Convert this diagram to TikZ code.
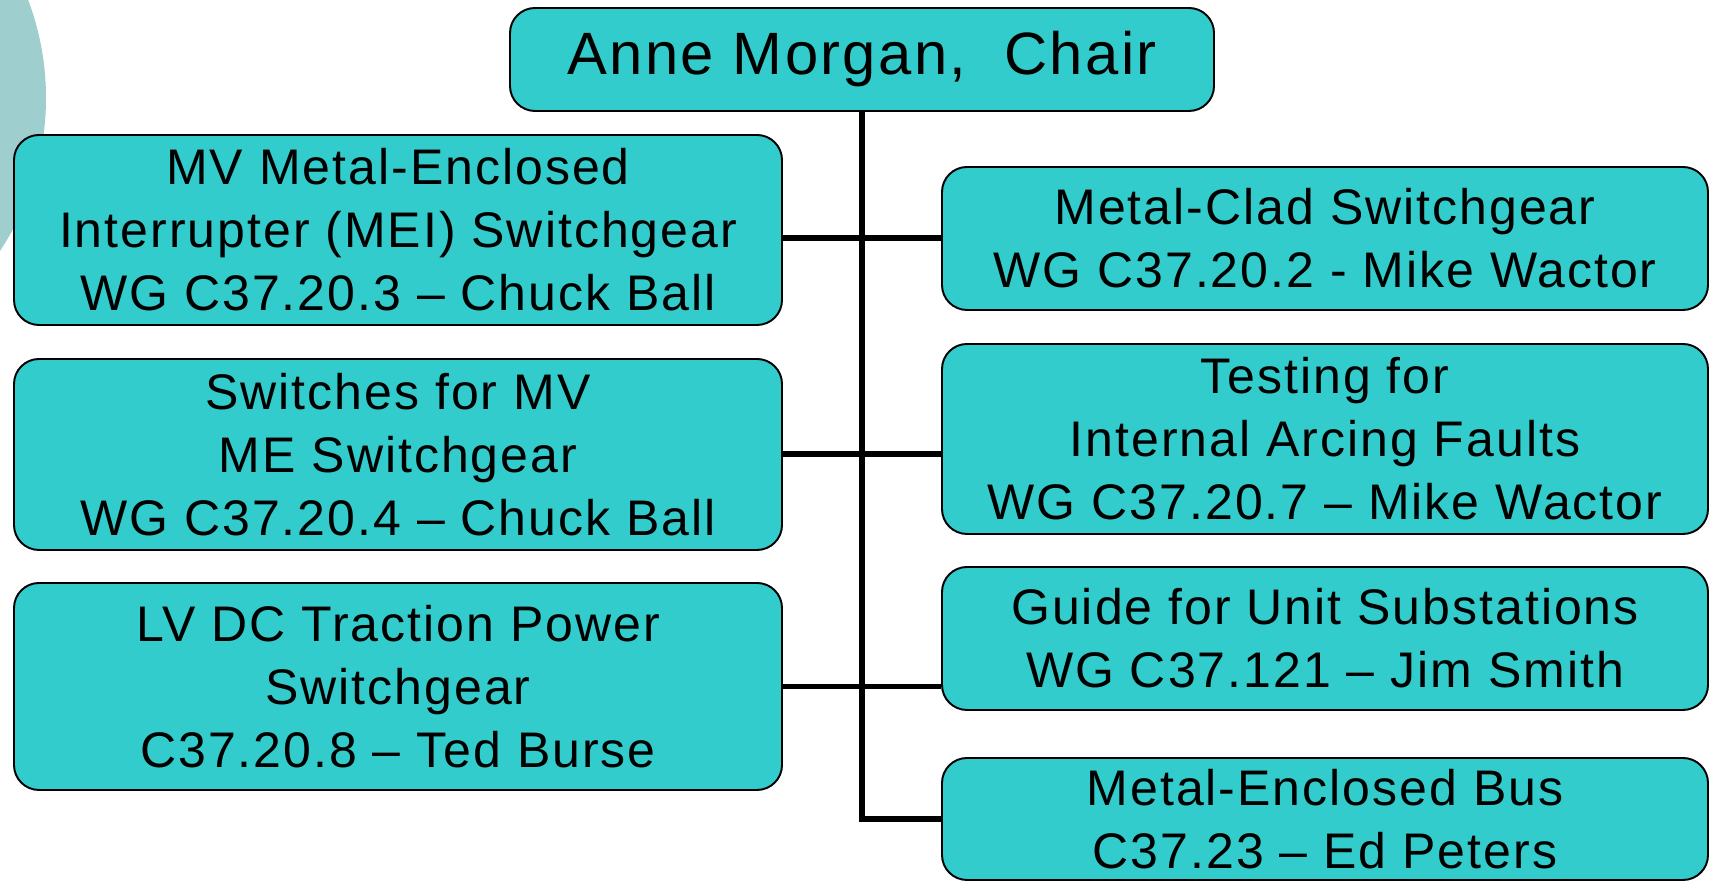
\documentclass[tikz,border=0pt]{standalone}
\usepackage{fontspec}
\setmainfont{Liberation Sans}[LetterSpace=4.0]
\usepackage{tikz}
\definecolor{boxteal}{RGB}{51,204,204}
\definecolor{discgray}{RGB}{158,206,206}
\tikzset{
	wgbox/.style={draw=black, line width=1.1pt, fill=boxteal, rounded corners=0.5cm,
		align=center, inner sep=0pt, font=\fontsize{28.45}{35.85}\selectfont},
	trunk/.style={line width=3.4pt}
}

\begin{document}
\begin{tikzpicture}

	\useasboundingbox (0,0) rectangle (34.2,17.62);
	\clip (0,0) rectangle (34.2,17.62);
	\fill[discgray] (-4.62,15.66) circle (5.54);

	\node[wgbox, minimum width=14.08cm, minimum height=2.06cm,
		font=\fontsize{34}{40}\selectfont] (chair) at (17.24,16.43) {Anne Morgan,~~Chair};

	\node[wgbox, minimum width=15.36cm, minimum height=3.80cm] (mei) at (7.96,13.02)
		{MV Metal-Enclosed\\Interrupter (MEI) Switchgear\\WG C37.20.3 – Chuck Ball};
	\node[wgbox, minimum width=15.36cm, minimum height=3.82cm] (switches) at (7.96,8.53)
		{Switches for MV\\ME Switchgear\\WG C37.20.4 – Chuck Ball};
	\node[wgbox, minimum width=15.36cm, minimum height=4.14cm] (traction) at (7.96,3.89)
		{LV DC Traction Power\\Switchgear\\C37.20.8 – Ted Burse};

	\node[wgbox, minimum width=15.32cm, minimum height=2.86cm] (metalclad) at (26.5,12.85)
		{Metal-Clad Switchgear\\WG C37.20.2 - Mike Wactor};
	\node[wgbox, minimum width=15.32cm, minimum height=3.80cm] (arcing) at (26.5,8.84)
		{Testing for\\Internal Arcing Faults\\WG C37.20.7 – Mike Wactor};
	\node[wgbox, minimum width=15.32cm, minimum height=2.86cm] (unitsub) at (26.5,4.85)
		{Guide for Unit Substations\\WG C37.121 – Jim Smith};
	\node[wgbox, minimum width=15.32cm, minimum height=2.44cm] (bus) at (26.5,1.24)
		{Metal-Enclosed Bus\\C37.23 – Ed Peters};

	\draw[trunk] (chair.south) -- (chair.south |- bus.west) -- (bus.west);
	\draw[trunk] (mei.east |- metalclad.west) -- (metalclad.west);
	\draw[trunk] (switches.east) -- (switches.east -| arcing.west);
	\draw[trunk] (traction.east) -- (traction.east -| unitsub.west);

\end{tikzpicture}
\end{document}
